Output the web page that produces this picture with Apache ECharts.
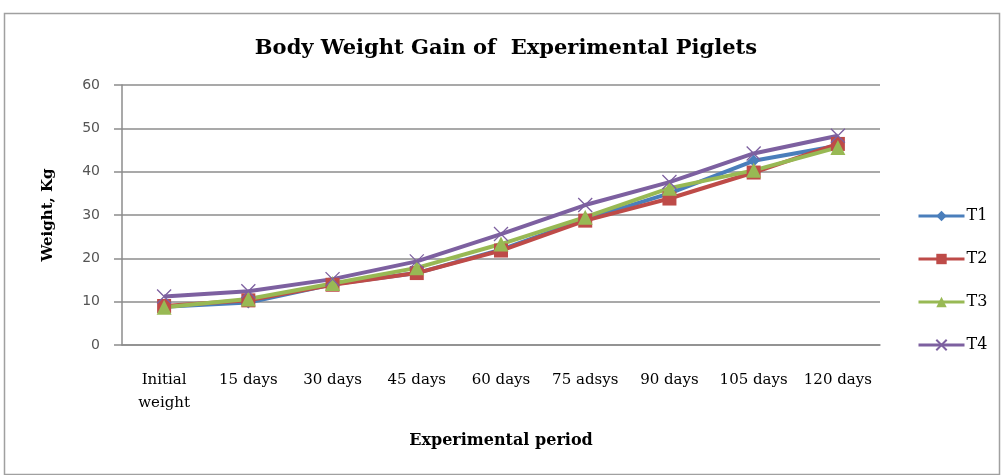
<!DOCTYPE html>
<html>
<head>
<meta charset="utf-8">
<script src="https://cdn.jsdelivr.net/npm/echarts@6/dist/echarts.min.js"></script>
<style>html,body{margin:0;padding:0;background:#fff}#c{width:1001px;height:475px}</style>
</head>
<body>
<div id="c"></div>
<script>
const categories = ['Initial\nweight', '15 days', '30 days', '45 days', '60 days', '75 adsys', '90 days', '105 days', '120 days'];
const t1 = [8.8, 9.8, 14.0, 16.6, 22.0, 29.0, 35.0, 42.5, 46.0];
const t2 = [9.0, 10.3, 13.9, 16.6, 21.8, 28.7, 33.8, 39.8, 46.4];
const t3 = [8.7, 10.6, 14.2, 17.8, 23.3, 29.5, 36.2, 40.3, 45.6];
const t4 = [11.2, 12.4, 15.2, 19.3, 25.6, 32.3, 37.6, 44.2, 48.3];
const yTicks = [0, 10, 20, 30, 40, 50, 60];

const serif = 'DejaVu Serif';
const xPath = 'path://M0,0L10,10M10,0L0,10';
function mk(name, data, color, symbol, size, extra) {
  return Object.assign({
    name, type: 'line', data, symbol, symbolSize: size,
    lineStyle: { color, width: 4 },
    itemStyle: { color },
    z: 2
  }, extra || {});
}
const chart = echarts.init(document.getElementById('c'), null, { renderer: 'canvas' });
chart.setOption({
  animation: false,
  backgroundColor: '#fff',
  graphic: [{
    type: 'rect', shape: { x: 4.5, y: 13.5, width: 995, height: 461 },
    style: { fill: 'none', stroke: '#a0a0a0', lineWidth: 1.5 }, z: -1
  }],
  title: {
    text: 'Body Weight Gain of  Experimental Piglets',
    left: 501, top: 33, textAlign: 'center',
    textStyle: { fontFamily: serif, fontSize: 21, fontWeight: 'bold', color: '#000' }
  },
  legend: {
    orient: 'vertical', left: 912, top: 203, itemWidth: 46, itemHeight: 13, itemGap: 27,
    lineStyle: { width: 3 },
    textStyle: { fontFamily: serif, fontSize: 16, color: '#000', padding: [0, 0, 0, -3] },
    data: ['T1', 'T2', 'T3', 'T4']
  },
  grid: { left: 122, right: 121, top: 85, bottom: 130 },
  xAxis: {
    type: 'category', data: categories, boundaryGap: true,
    axisLine: { lineStyle: { color: '#8c8c8c', width: 1.5 } },
    axisTick: { show: false },
    axisLabel: { interval: 0, margin: 24, fontFamily: serif, fontSize: 15, color: '#000', lineHeight: 23 },
    name: 'Experimental period', nameLocation: 'middle', nameGap: 88,
    nameTextStyle: { fontFamily: serif, fontSize: 16, fontWeight: 'bold', color: '#000' }
  },
  yAxis: {
    type: 'value', min: yTicks[0], max: yTicks[yTicks.length - 1], interval: 10,
    axisLine: { show: true, lineStyle: { color: '#8c8c8c', width: 1.5 } },
    axisTick: { show: true, length: 8, lineStyle: { color: '#8c8c8c', width: 1.5 } },
    splitLine: { lineStyle: { color: '#8c8c8c', width: 1.5 } },
    axisLabel: { margin: 22, fontFamily: 'DejaVu Sans', fontSize: 14, color: '#555' },
    name: 'Weight, Kg', nameLocation: 'middle', nameGap: 66, nameRotate: 90,
    nameTextStyle: { fontFamily: serif, fontSize: 15, fontWeight: 'bold', color: '#000' }
  },
  series: [
    mk('T1', t1, '#4a7ebb', 'diamond', 12),
    mk('T2', t2, '#be4b48', 'rect', 14),
    mk('T3', t3, '#98b954', 'triangle', 15),
    mk('T4', t4, '#7d60a0', xPath, 14, { itemStyle: { color: '#7d60a0', borderColor: '#7d60a0', borderWidth: 1.3 } })
  ]
});
</script>
</body>
</html>
